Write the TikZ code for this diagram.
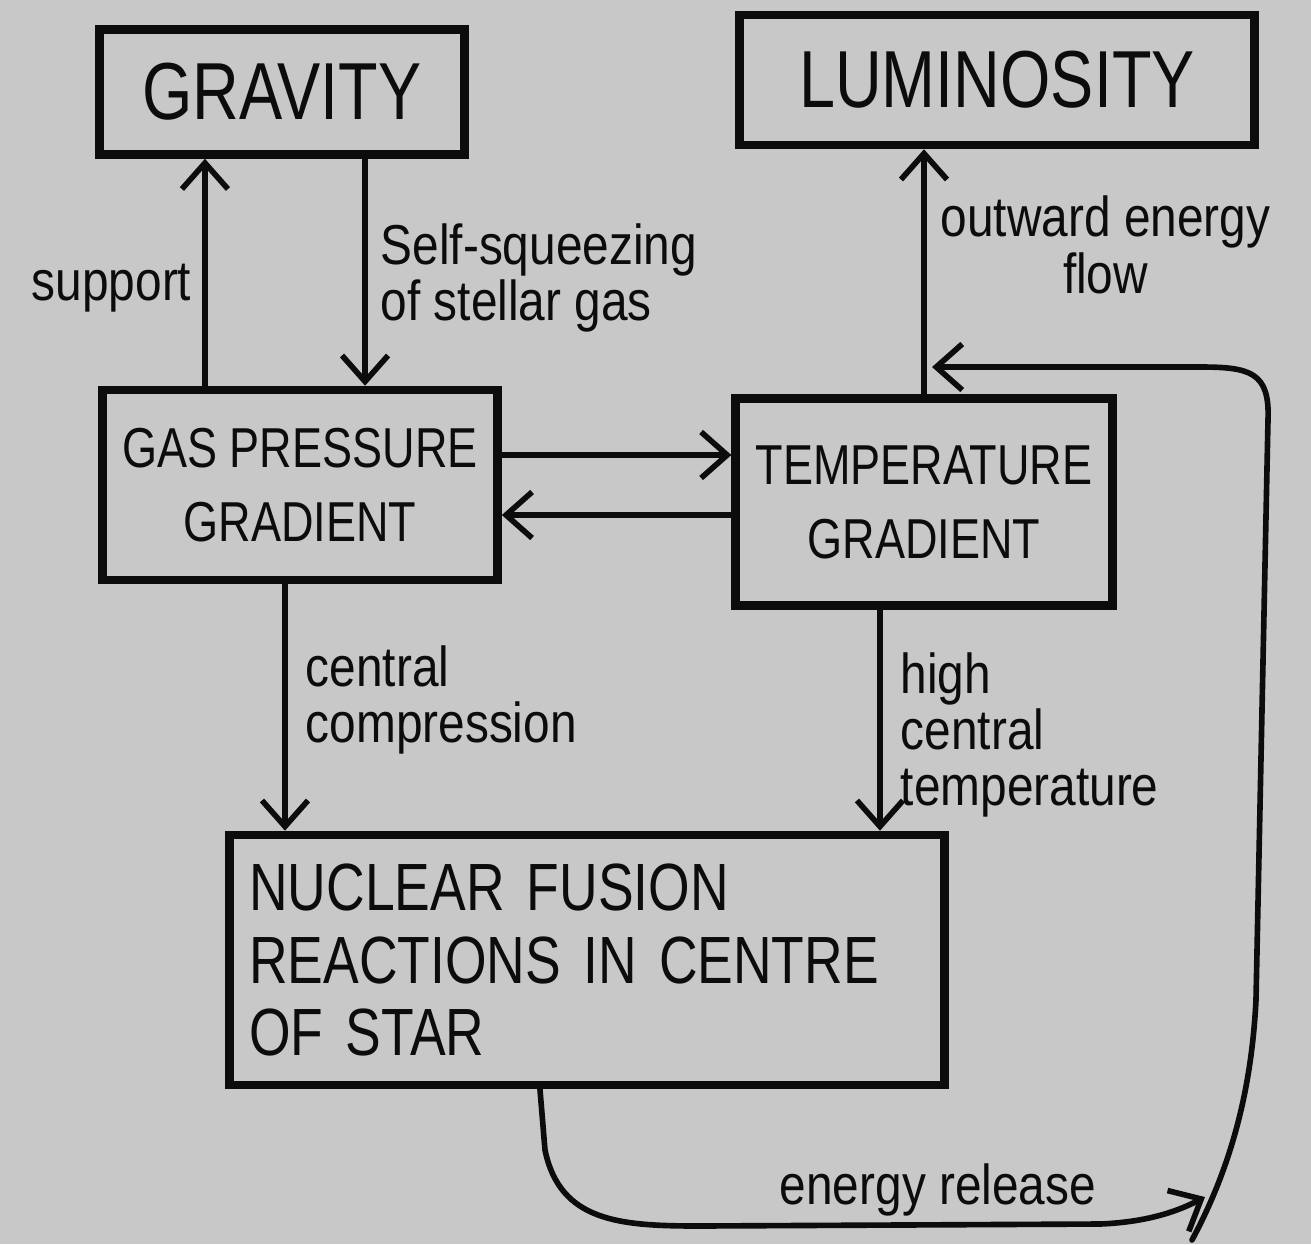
\documentclass[tikz,border=0pt]{standalone}
\usepackage{fontspec}
\setmainfont{Liberation Sans}
\newfontfamily\boxfont[FakeStretch=0.8]{Liberation Sans}
\newfontfamily\notefont[FakeStretch=0.85]{Liberation Sans}
\usepackage{tikz}
\usetikzlibrary{arrows.meta}
\usepackage{xcolor}
\definecolor{ColPaper}{RGB}{200,200,200}
\definecolor{ColInk}{RGB}{12,12,12}
\tikzstyle{BoxGraph}=[draw=ColInk,text=ColInk,line width=2.4pt,inner sep=2mm,align=center]
\tikzstyle{BigText}=[font=\boxfont\fontsize{23}{26}\selectfont]
\tikzstyle{MidText}=[font=\boxfont\fontsize{16}{21}\selectfont]
\tikzstyle{EdgeGraph}=[ColInk,line width=1.6pt,cap=round,-{Straight Barb[length=2.6mm,width=4.6mm,line width=1.6pt]}]
\tikzstyle{NoteGraph}=[text=ColInk,inner sep=0pt,align=left,font=\notefont\fontsize{16}{16}\selectfont]

\begin{document}
\begin{tikzpicture}[x=0.01cm,y=-0.01cm]
        \fill[ColPaper](0,0)rectangle(1311,1244);
        \useasboundingbox(0,0)rectangle(1311,1244);
        \node[BoxGraph,BigText,minimum width=3.65cm,minimum height=1.25cm](grav)at(282,92){GRAVITY};
        \node[BoxGraph,BigText,minimum width=5.15cm,minimum height=1.3cm](lum)at(997,80){LUMINOSITY};
        \node[BoxGraph,MidText,minimum width=3.8cm,minimum height=1.9cm](gas)at(300,485){GAS PRESSURE\\GRADIENT};
        \node[BoxGraph,MidText,minimum width=3.68cm,minimum height=2.07cm](temp)at(924,502){TEMPERATURE\\GRADIENT};
        \node[BoxGraph,font=\boxfont\fontsize{19}{20.5}\selectfont,align=left,text width=6.75cm,
            minimum height=2.5cm](fus)at(587,960){NUCLEAR FUSION\\REACTIONS IN CENTRE\\OF STAR};
        \coordinate(er)at(1205,1197);
        \coordinate(erback)at(1192,1240);
        \coordinate(ret)at(932,367);
        \draw[EdgeGraph]([xshift=-9.5mm]gas.north)--([xshift=-9.5mm]gas.north|-grav.south);
        \draw[EdgeGraph]([xshift=8.3mm]grav.south)--([xshift=8.3mm]grav.south|-gas.north);
        \draw[EdgeGraph]([yshift=3mm]gas.east)--([yshift=3mm]gas.east-|temp.west);
        \draw[EdgeGraph]([yshift=-1.3mm]temp.west)--([yshift=-1.3mm]temp.west-|gas.east);
        \draw[EdgeGraph]([xshift=-1.5mm]gas.south)--([xshift=-1.5mm]gas.south|-fus.north);
        \draw[EdgeGraph]([xshift=-4.4mm]temp.south)--([xshift=-4.4mm]temp.south|-fus.north);
        \draw[EdgeGraph](temp.north)--(temp.north|-lum.south);
        \draw[EdgeGraph]([xshift=-4.7mm]fus.south)--(545,1150)
            ..controls(560,1222)and(620,1226)..(700,1226)--(1100,1224)
            ..controls(1150,1222)and(1180,1210)..(er);
        \draw[EdgeGraph](erback)..controls(1235,1160)and(1252,1080)..(1256,1000)--(1268,420)
            ..controls(1270,372)and(1250,367)..(1200,367)--(ret);
        \node[NoteGraph,anchor=east](support)at(192,288){support};
        \node[NoteGraph,anchor=west](squeeze)at(380,278){Self-squeezing\\of stellar gas};
        \node[NoteGraph,anchor=west,align=center](outward)at(940,245){outward energy\\flow};
        \node[NoteGraph,anchor=west](compress)at(305,700){central\\compression};
        \node[NoteGraph,anchor=west](hightemp)at(900,735){high\\central\\temperature};
        \node[NoteGraph](release)at(938,1190){energy release};
    \end{tikzpicture}
\end{document}
